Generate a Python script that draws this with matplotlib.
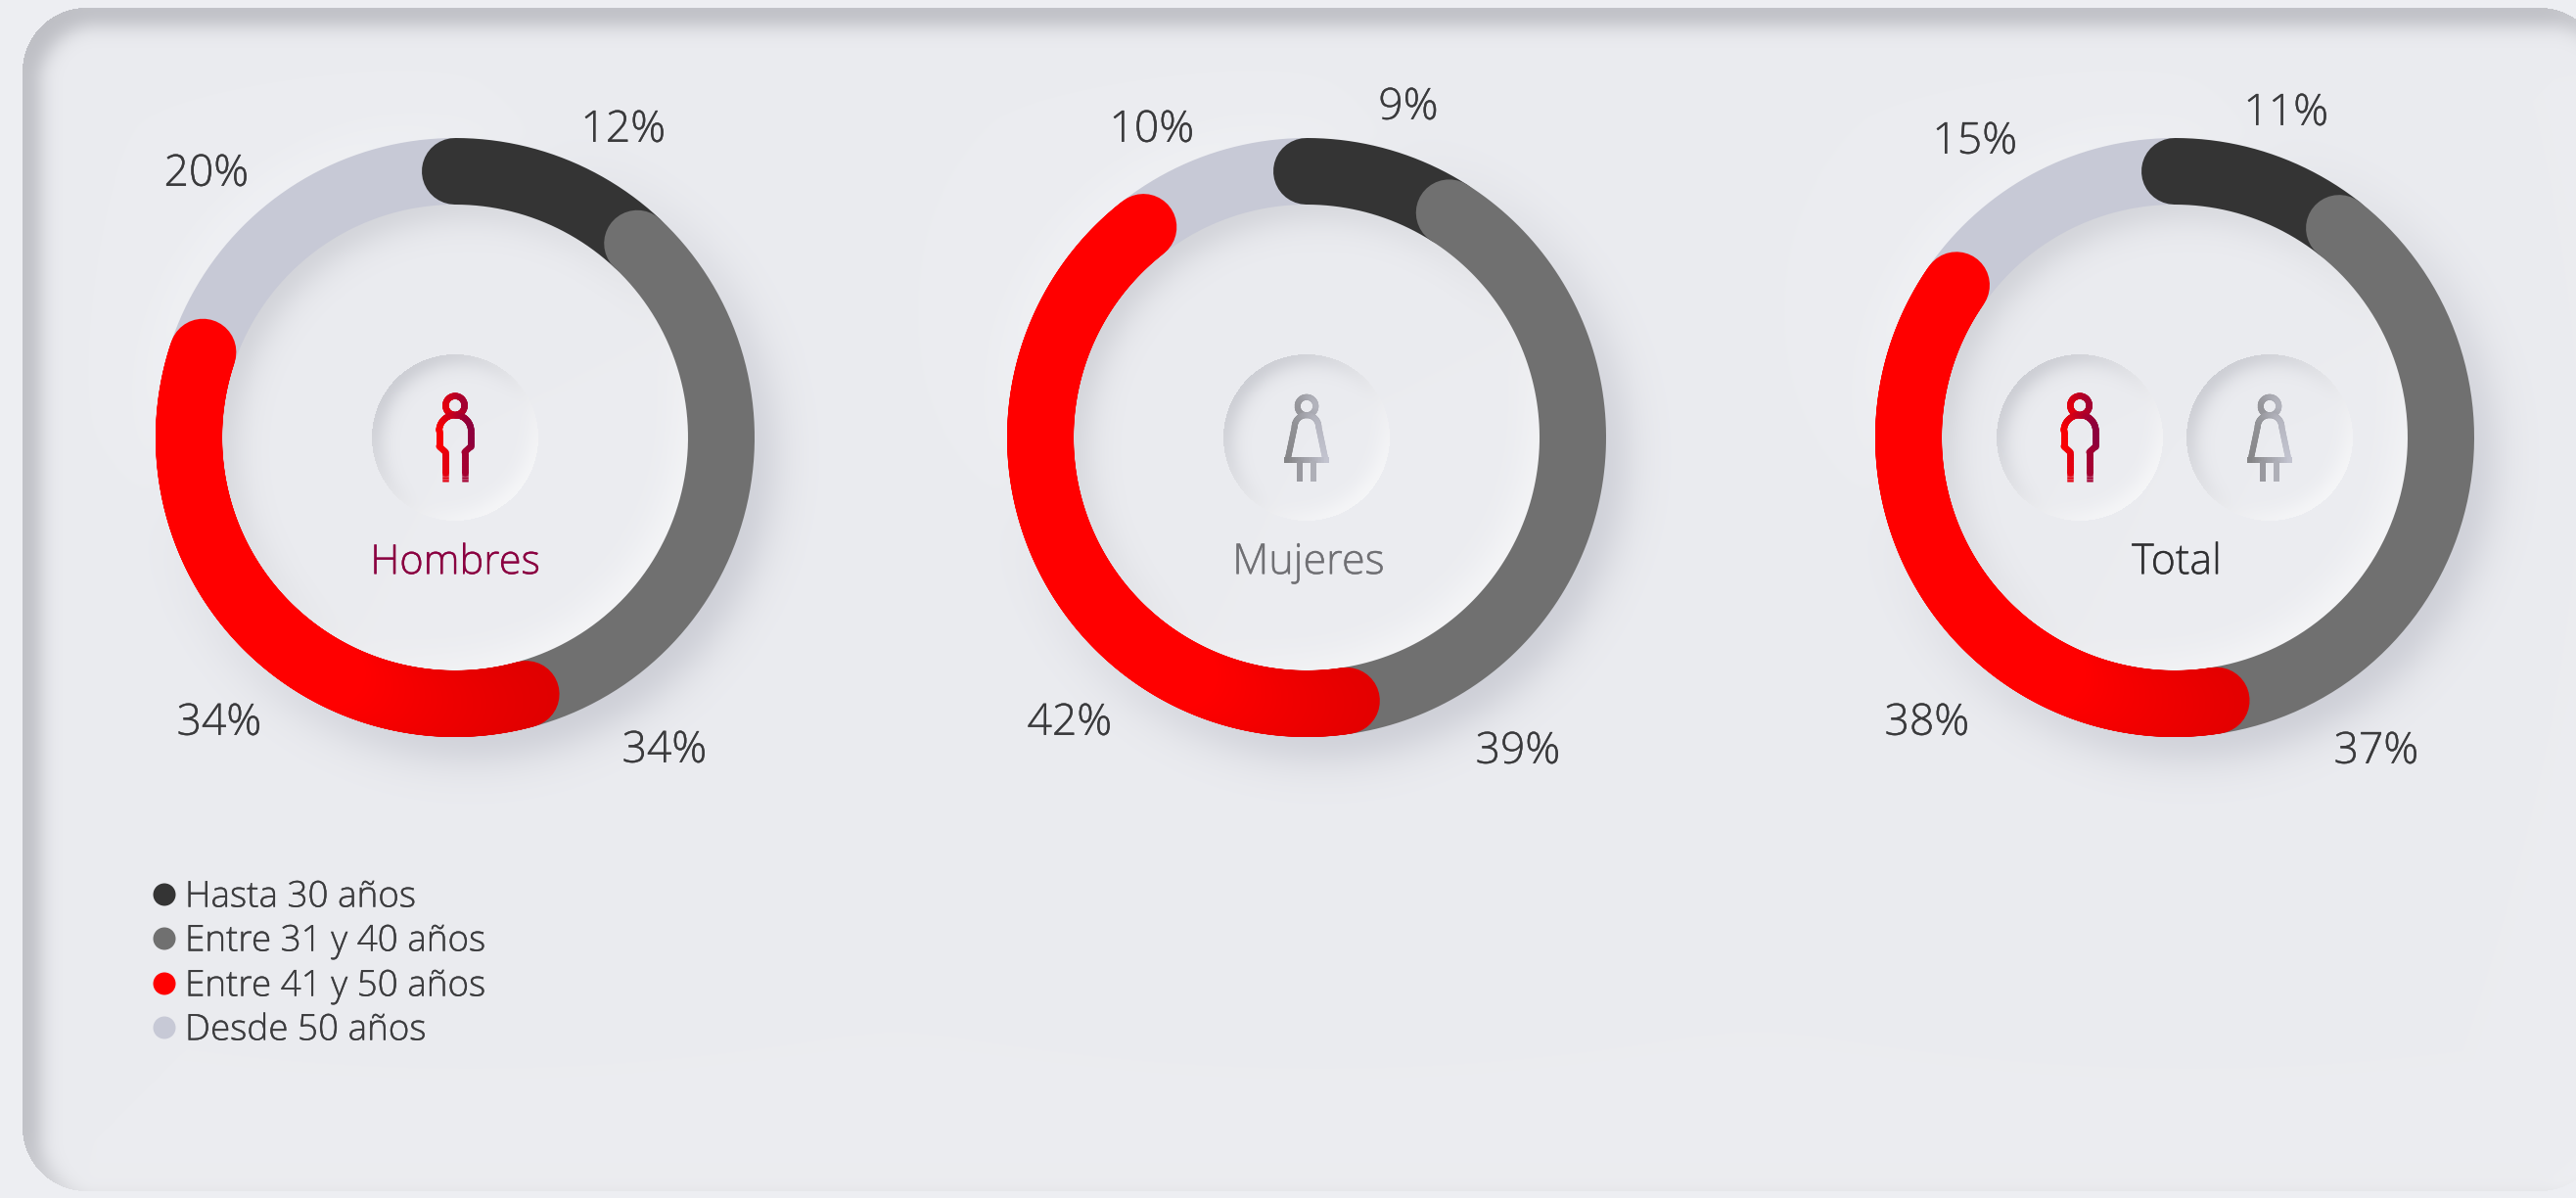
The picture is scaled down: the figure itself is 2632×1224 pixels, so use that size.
import numpy as np
import matplotlib
matplotlib.use("Agg")
import matplotlib.pyplot as plt
import matplotlib.patheffects as pe
from matplotlib.collections import LineCollection
from matplotlib.colors import to_rgb

plt.rcParams["font.family"] = ["Open Sans", "DejaVu Sans"]
plt.rcParams["font.weight"] = "light"

# data
age_groups = ["Hasta 30 años", "Entre 31 y 40 años", "Entre 41 y 50 años", "Desde 50 años"]
age_colors = ["#343434", "#707070", "#ff0000", "#c7c9d6"]
panel_names = ["Hombres", "Mujeres", "Total"]
# printed labels
hombres = [12, 34, 34, 20]
mujeres = [9, 39, 42, 10]
total = [11, 37, 38, 15]
panel_values = [hombres, mujeres, total]
hombres_arc = [12.0, 33.7, 34.5, 19.8]
mujeres_arc = [9.0, 38.6, 41.9, 10.5]
total_arc = [10.6, 36.9, 37.2, 15.3]
panel_arcs = [hombres_arc, mujeres_arc, total_arc]

# layout, in pixels of the 2632x1224 picture
W, H = 2632, 1224
centers_x = [465, 1335, 2222]
center_y = 447
r_outer, r_inner = 306, 238
name_colors = ["#8a0040", "#707074", "#303032"]
name_xy = [(465, 570), (1337, 570), (2224, 570)]
label_xy = [
    [(637, 128), (679, 762), (224, 734), (211, 173)],
    [(1439, 105), (1551, 763), (1093, 734), (1177, 128)],
    [(2336, 111), (2428, 763), (1969, 734), (2018, 140)],
]
badge_r = 85
card = (23, 8, 2660, 1217, 65)
legend_y = [914, 959, 1005, 1050]


def sig(d, s):
    return 1 / (1 + np.exp(np.clip(d / s, -30, 30)))


def blend(img, alpha, color):
    color = np.array(to_rgb(color))
    return img * (1 - alpha[..., None]) + color * alpha[..., None]


def card_dist(X, Y, dx=0, dy=0):
    # signed distance to the rounded card, negative inside
    x0, y0, x1, y1, r = card
    cx, cy = (x0 + x1) / 2 + dx, (y0 + y1) / 2 + dy
    qx = np.abs(X - cx) - (x1 - x0) / 2 + r
    qy = np.abs(Y - cy) - (y1 - y0) / 2 + r
    return np.hypot(np.maximum(qx, 0), np.maximum(qy, 0)) + np.minimum(np.maximum(qx, qy), 0) - r


def inset(img, X, Y, cx, cy, r, off, s, dark, light):
    inside = np.hypot(X - cx, Y - cy) < r
    d = r - np.hypot(X - cx - off, Y - cy - off)
    img = blend(img, inside * dark * sig(d, s), "#a9abb4")
    d = r - np.hypot(X - cx + off, Y - cy + off)
    img = blend(img, inside * light * sig(d, s), "#ffffff")
    return img


def make_background():
    Y, X = np.mgrid[0:H, 0:W] + 0.5
    img = np.ones((H, W, 3)) * np.array(to_rgb("#eeeff3"))
    inside = card_dist(X, Y) < 0
    img[inside] = to_rgb("#ebecf0")
    d = -card_dist(X, Y, 12, 12)
    img = blend(img, inside * 0.95 * sig(d - 6, 6), "#b9bac0")
    d = -card_dist(X, Y, -8, -8)
    img = blend(img, inside * 0.3 * sig(d, 6), "#ffffff")
    for cx in centers_x:
        dist = np.hypot(X - cx, Y - center_y)
        outside = dist >= r_outer - 2
        # soft shadow lower right, soft light upper left
        d = np.hypot(X - cx - 16, Y - center_y - 18) - r_outer
        img = blend(img, outside * 0.7 * sig(d, 14), "#b4b6c1")
        d = np.hypot(X - cx + 14, Y - center_y + 14) - r_outer
        img = blend(img, outside * 0.6 * sig(d, 12), "#f8f9fb")
        img = inset(img, X, Y, cx, center_y, r_inner + 2, 12, 11, 0.55, 0.7)
    for bx in [465, 1335, 2125, 2319]:
        img = inset(img, X, Y, bx, center_y, badge_r, 7, 6, 0.65, 0.75)
    return img


def donut(fig, cx, values):
    # one polar axes per ring, radius in pixels
    lim = r_outer + 40
    rect = [(cx - lim) / W, 1 - (center_y + lim) / H, 2 * lim / W, 2 * lim / H]
    ax = fig.add_axes(rect, projection="polar")
    ax.set_theta_zero_location("N")
    ax.set_theta_direction(-1)
    ax.patch.set_alpha(0)
    ax.axis("off")
    shares = np.array(values, dtype=float) / sum(values)
    edges = np.concatenate([[0], np.cumsum(shares)]) * 2 * np.pi
    r_mid = (r_outer + r_inner) / 2
    lw = (r_outer - r_inner) * 72 / 100
    # light one first, then the others so each start sits on the previous end
    for i in [3, 0, 1]:
        th = np.linspace(edges[i], edges[i + 1], 200)
        ax.plot(th, np.full_like(th, r_mid), color=age_colors[i], lw=lw,
                solid_capstyle="butt" if i == 3 else "round", clip_on=False)
    th = np.linspace(edges[2], edges[3], 300)
    u = (np.sin(th) - np.cos(th)) / np.sqrt(2)
    t = np.clip((u - 0.3) / 0.56, 0, 1)
    c0, c1 = np.array(to_rgb("#ff0000")), np.array(to_rgb("#e00000"))
    cols = c0 + (c1 - c0) * t[:-1, None]
    segs = [[(th[i], r_mid), (th[i + 1], r_mid)] for i in range(len(th) - 1)]
    ax.add_collection(LineCollection(segs, colors=cols, linewidths=lw, capstyle="round",
                                     clip_on=False, transform=ax.transData))
    ax.set_ylim(0, lim)
    return ax


def grad_line(ax, xs, ys, x0, x1, c0, c1, lw=6.5, cap="round"):
    pts = []
    for (xa, ya), (xb, yb) in zip(zip(xs[:-1], ys[:-1]), zip(xs[1:], ys[1:])):
        n = max(2, int(np.hypot(xb - xa, yb - ya) / 1.5))
        for k in range(n):
            pts.append((xa + (xb - xa) * k / n, ya + (yb - ya) * k / n))
    pts.append((xs[-1], ys[-1]))
    pts = np.array(pts)
    segs = np.stack([pts[:-1], pts[1:]], axis=1)
    mid = segs.mean(axis=1)[:, 0]
    t = np.clip((mid - x0) / (x1 - x0), 0, 1)[:, None]
    cols = np.array(to_rgb(c0)) + (np.array(to_rgb(c1)) - np.array(to_rgb(c0))) * t
    ax.add_collection(LineCollection(segs, colors=cols, linewidths=lw * 0.72, capstyle=cap))


def arc(cx, cy, r, a0, a1, n=40):
    a = np.radians(np.linspace(a0, a1, n))
    return cx + r * np.cos(a), cy + r * np.sin(a)


def man(ax, x, y):
    kw = dict(x0=x - 18, x1=x + 18, c0="#ff0000", c1="#880040")
    hx, hy = arc(x, y - 32.7, 9.7, 0, 360)
    grad_line(ax, hx, hy, **kw)
    ax_, ay_ = arc(x, y - 6.7, 16.3, 180, 360)
    px = np.concatenate([[x - 9.7, x - 9.7, x - 16.3], ax_, [x + 16.3, x + 9.7, x + 9.7]])
    py = np.concatenate([[y + 36, y + 15, y + 9], ay_, [y + 9, y + 15, y + 36]])
    grad_line(ax, px, py, **kw)
    for dx in (-9.7, 9.7):
        grad_line(ax, [x + dx, x + dx], [y + 34, y + 45], cap="butt", **kw)


def woman(ax, x, y):
    kw = dict(x0=x - 20, x1=x + 20, c0="#848486", c1="#c3c4d0", lw=6)
    hx, hy = arc(x, y - 32, 9.3, 0, 360)
    grad_line(ax, hx, hy, **kw)
    ax_, ay_ = arc(x, y - 10.7, 12.3, 180, 360)
    px = np.concatenate([[x - 19], ax_, [x + 19]])
    py = np.concatenate([[y + 21], ay_, [y + 21]])
    grad_line(ax, px, py, **kw)
    grad_line(ax, [x - 23, x + 23], [y + 22.7, y + 22.7], cap="butt", **kw)
    for dx in (-6.7, 6.7):
        grad_line(ax, [x + dx, x + dx], [y + 24, y + 45], cap="butt", **kw)


fig = plt.figure(figsize=(W / 100, H / 100), dpi=100)
bg = fig.add_axes([0, 0, 1, 1])
bg.set_xlim(0, W)
bg.set_ylim(H, 0)
bg.axis("off")
bg.imshow(make_background(), extent=(0, W, H, 0), aspect="auto", interpolation="nearest", zorder=0)

for cx, values in zip(centers_x, panel_arcs):
    donut(fig, cx, values)

top = fig.add_axes([0, 0, 1, 1])
top.set_xlim(0, W)
top.set_ylim(H, 0)
top.patch.set_alpha(0)
top.axis("off")


def heavier(txt, col):
    # the original face is a touch heavier than Open Sans Light
    txt.set_path_effects([pe.withStroke(linewidth=0.25, foreground=col)])


for values, xys in zip(panel_values, label_xy):
    for v, (x, y) in zip(values, xys):
        heavier(top.text(x, y, f"{v}%", fontsize=32, color="#3a3a3c",
                         ha="center", va="center_baseline"), "#3a3a3c")

for name, col, (x, y), fs in zip(panel_names, name_colors, name_xy, [30, 31, 31]):
    heavier(top.text(x, y, name, fontsize=fs, color=col, ha="center", va="center_baseline"), col)

man(top, 465, center_y)
woman(top, 1335, center_y)
man(top, 2125, center_y)
woman(top, 2319, center_y)

top.scatter([168] * 4, legend_y, s=(23 * 0.72) ** 2, c=age_colors, linewidths=0)
for name, y in zip(age_groups, legend_y):
    heavier(top.text(189, y - 1.5, name, fontsize=26.5, color="#3c3c3e",
                     ha="left", va="center_baseline"), "#3c3c3e")

fig.savefig("out.png", dpi=100)
